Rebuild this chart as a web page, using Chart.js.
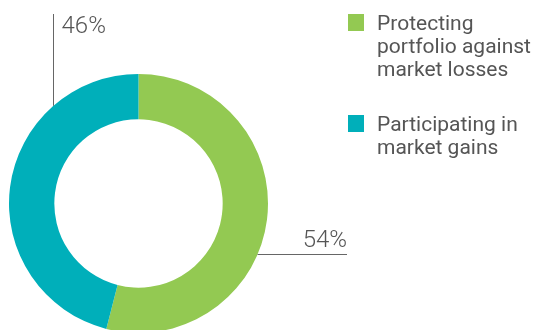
<!DOCTYPE html>
<html>
<head>
<meta charset="utf-8">
<script src="https://cdn.jsdelivr.net/npm/chart.js@4"></script>
<style>
  html, body { margin: 0; padding: 0; background: #fff; overflow: hidden; }
  #wrap { position: absolute; left: 0; top: 0; width: 538px; height: 340px; }
</style>
</head>
<body>
<div id="wrap"><canvas id="donut"></canvas></div>
<script>
// data
const categories = [['Protecting', 'portfolio against', 'market losses'], ['Participating in', 'market gains']];
const values = [54, 46];
const valueLabels = ['54%', '46%'];
const colors = ['#93C952', '#00AFBA'];

const TEXT = '#555555';
const FONT = 'Roboto, "Noto Sans", sans-serif';

// legend + leader labels drawn on top of the doughnut
const calloutPlugin = {
    id: 'callouts',
    afterDraw(chart) {
        const ctx = chart.ctx;
        const arc = chart.getDatasetMeta(0).data[0];
        const cx = arc.x, cy = arc.y, r = arc.outerRadius;

        ctx.save();
        ctx.strokeStyle = '#666';
        ctx.lineWidth = 1;
        ctx.fillStyle = TEXT;
        ctx.font = '300 24px ' + FONT;
        ctx.textBaseline = 'alphabetic';

        // 46% - vertical leader up from upper-left of ring
        const lx = Math.round(cx - 0.66 * r) + 0.5;
        const ly = cy - Math.sqrt(r * r - (lx - cx) * (lx - cx));
        ctx.beginPath();
        ctx.moveTo(lx, 14);
        ctx.lineTo(lx, ly);
        ctx.stroke();
        ctx.textAlign = 'left';
        ctx.fillText(valueLabels[1], lx + 8, 33);

        // 54% - horizontal leader right from lower-right of ring
        const hy = Math.round(cy + 0.387 * r) + 0.5;
        const hx = cx + Math.sqrt(r * r - (hy - cy) * (hy - cy));
        ctx.beginPath();
        ctx.moveTo(hx, hy);
        ctx.lineTo(347, hy);
        ctx.stroke();
        ctx.textAlign = 'right';
        ctx.fillText(valueLabels[0], 347, hy - 8);

        // legend
        ctx.textAlign = 'left';
        ctx.font = '400 21px ' + FONT;
        const tops = [14, 115];
        categories.forEach((lines, i) => {
            ctx.fillStyle = colors[i];
            ctx.fillRect(348, tops[i], 16, 17);
            ctx.fillStyle = TEXT;
            lines.forEach((t, j) => ctx.fillText(t, 377, tops[i] + 16 + j * 23));
        });
        ctx.restore();
    }
};

new Chart(document.getElementById('donut'), {
    type: 'doughnut',
    data: {
        labels: categories.map(c => c.join(' ')),
        datasets: [{
            data: values,
            backgroundColor: colors,
            borderWidth: 0
        }]
    },
    options: {
        responsive: true,
        maintainAspectRatio: false,
        animation: false,
        cutout: '65%',
        layout: { padding: { left: 9, right: 270, top: 74, bottom: 7 } },
        plugins: {
            legend: { display: false },
            tooltip: { enabled: false }
        }
    },
    plugins: [calloutPlugin]
});
</script>
</body>
</html>
